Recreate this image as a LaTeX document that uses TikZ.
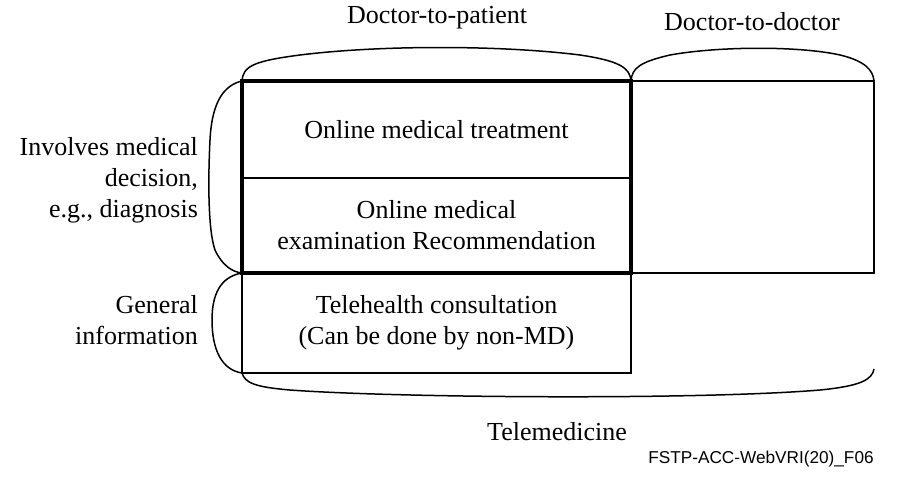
\documentclass[tikz,border=0pt]{standalone}
\usepackage{fontspec}
\setmainfont{Liberation Serif}
\setsansfont{Liberation Sans}
\begin{document}
\begin{tikzpicture}[x=0.5pt,y=-0.5pt,
  cell/.style={draw, line width=0.75pt, inner sep=0pt, outer sep=0pt, align=center,
    font=\fontsize{13}{15.5}\selectfont},
  lbl/.style={align=right, anchor=east, font=\fontsize{13}{15.5}\selectfont},
  brace/.style={line width=0.75pt}]
\useasboundingbox (0,0) rectangle (924,482);
% cells
\node[cell, minimum width=194.5pt, minimum height=48.5pt] (treat) at (436.5,129.5) {Online medical treatment};
\node[cell, minimum width=194.5pt, minimum height=47.5pt] (exam) at (436.5,225.5) {Online medical\\examination Recommendation};
\node[cell, minimum width=194.5pt, minimum height=50pt] (tele) at (436.5,323) {Telehealth consultation\\(Can be done by non-MD)};
\node[cell, minimum width=121.5pt, minimum height=96pt] (dd) at (752.5,177) {};
\draw[line width=2pt] (treat.north west) rectangle (exam.south east);
% labels
\node[font=\fontsize{13}{15.5}\selectfont] (dptxt) at (437,18) {Doctor-to-patient};
\node[font=\fontsize{13}{15.5}\selectfont] (ddtxt) at (752,22) {Doctor-to-doctor};
\node[lbl] (decision) at (205,180) {Involves medical\\decision,\\e.g., diagnosis};
\node[lbl] (general) at (205,320) {General\\information};
\node[font=\fontsize{13}{15.5}\selectfont] (telemed) at (557,432) {Telemedicine};
\node[font=\sffamily\fontsize{8.6}{10}\selectfont] (figid) at (761,459) {FSTP-ACC-WebVRI(20)\_F06};
% braces
\draw[brace] (treat.north west) .. controls (243,66) and (254,61) .. (300,55)
  .. controls (380,45) and (500,45) .. (580,55) .. controls (620,61) and (630,68) .. (treat.north east);
\draw[brace] (dd.north west) .. controls (632,68) and (640,62) .. (670,55)
  .. controls (720,46) and (800,46) .. (840,55) .. controls (865,61) and (873,70) .. (dd.north east);
\draw[brace] (treat.north west) .. controls (225,85) and (212,100) .. (210,140)
  .. controls (208,180) and (208,230) .. (215,250) .. controls (222,265) and (232,272) .. (exam.south west);
\draw[brace] (tele.north west) .. controls (225,276) and (212,288) .. (212,320)
  .. controls (212,350) and (222,370) .. (tele.south west);
\draw[brace] (tele.south west) .. controls (245,383) and (255,387) .. (290,390)
  .. controls (400,398) and (700,400) .. (820,390) .. controls (860,386) and (872,380) .. (874,369);
\end{tikzpicture}
\end{document}
